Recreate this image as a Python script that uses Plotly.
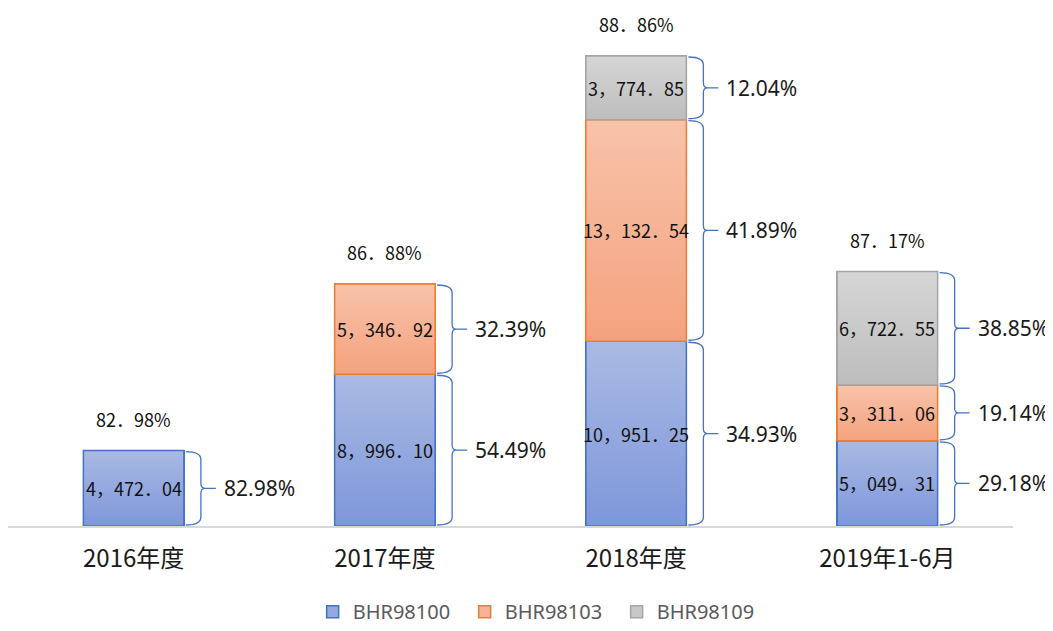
import plotly.graph_objects as go

# ---------------- data ----------------
categories = ["2016年度", "2017年度", "2018年度", "2019年1-6月"]
series_names = ["BHR98100", "BHR98103", "BHR98109"]
bhr98100 = [4472.04, 8996.10, 10951.25, 5049.31]
bhr98103 = [None, 5346.92, 13132.54, 3311.06]
bhr98109 = [None, None, 3774.85, 6722.55]
pct_98100 = ["82.98%", "54.49%", "34.93%", "29.18%"]
pct_98103 = [None, "32.39%", "41.89%", "19.14%"]
pct_98109 = [None, None, "12.04%", "38.85%"]
total_pct = ["82.98%", "86.88%", "88.86%", "87.17%"]

# ---------------- styles ----------------
values = [bhr98100, bhr98103, bhr98109]
pcts = [pct_98100, pct_98103, pct_98109]
mid_colors = ["#95A9DE", "#F6B295", "#C8C8C8"]
top_colors = ["#AABAE3", "#F8C3AA", "#D6D6D6"]
bot_colors = ["#7E97DB", "#F4A27E", "#BDBDBD"]
line_colors = ["#4472C4", "#ED7D31", "#A5A5A5"]
CJK = "Noto Sans CJK SC"
LAT = "Noto Sans"

# page body has an 8px margin, so the figure is 16px smaller than the window
W, H = 1045, 623
ML, MR, MT, MB = 0, 40, 22, 105
YMAX = 29400
BAR_W = 0.4
xs = list(range(len(categories)))
px_x = (W - ML - MR) / 4.0           # pixels per x unit
px_y = (H - MT - MB) / YMAX          # pixels per y unit

fig = go.Figure()

# bar traces (legend + base fill)
for j, name in enumerate(series_names):
    fig.add_trace(go.Bar(
        x=xs, y=[v if v is not None else 0 for v in values[j]], name=name,
        width=BAR_W, marker=dict(color=mid_colors[j],
                                 line=dict(color=line_colors[j], width=1.5)),
        hoverinfo="skip"))

shapes = []
annotations = []


def fmt(v):
    return f"{v:,.2f}".replace(",", "，").replace(".", "．")


for i in xs:
    base = 0.0
    for j in range(3):
        v = values[j][i]
        if v is None:
            continue
        y0, y1 = base, base + v
        base = y1
        xl, xr = i - BAR_W / 2, i + BAR_W / 2
        # gradient overlay for segment
        fig.add_trace(go.Scatter(
            x=[xl, xr, xr, xl, xl], y=[y0, y0, y1, y1, y0],
            mode="lines", fill="toself",
            fillgradient=dict(type="vertical",
                              colorscale=[[0, bot_colors[j]], [1, top_colors[j]]]),
            line=dict(color=line_colors[j], width=1.5),
            showlegend=False, hoverinfo="skip"))
        ym = (y0 + y1) / 2
        annotations.append(dict(x=i, y=ym, text=fmt(v), showarrow=False,
                                font=dict(family=CJK, size=18, color="#111111"),
                                xanchor="center", yanchor="middle"))
        # brace
        xh = xr + 2 / px_x
        xv = xr + 17 / px_x
        xtip = xv + 4 / px_x
        xt = xr + 32 / px_x
        r = 8 / px_y
        r2 = 5 / px_y
        g = 1 / px_y
        yt, yb = y1 - g, y0 + g
        path = (f"M {xh},{yt} Q {xv},{yt} {xv},{yt - r} "
                f"L {xv},{ym + r2} Q {xv},{ym} {xtip},{ym} L {xt},{ym} "
                f"M {xtip},{ym} Q {xv},{ym} {xv},{ym - r2} "
                f"L {xv},{yb + r} Q {xv},{yb} {xh},{yb}")
        shapes.append(dict(type="path", path=path, xref="x", yref="y",
                           line=dict(color="#4472C4", width=1.3)))
        annotations.append(dict(x=xr + 38 / px_x, y=ym, text=pcts[j][i],
                                showarrow=False, xanchor="left", yanchor="middle",
                                font=dict(family=LAT, size=21, color="#1a1a1a")))
    annotations.append(dict(x=i, y=base, text=total_pct[i].replace(".", "．"),
                            showarrow=False, xanchor="center", yanchor="bottom",
                            yshift=17,
                            font=dict(family=CJK, size=18, color="#111111")))

fig.update_layout(
    width=W, height=H,
    margin=dict(l=ML, r=MR, t=MT, b=MB, autoexpand=False),
    barmode="stack",
    plot_bgcolor="white", paper_bgcolor="white",
    shapes=shapes, annotations=annotations,
    showlegend=True,
    legend=dict(orientation="h", x=0.53, xanchor="center", y=-0.212,
                yanchor="bottom", entrywidth=107, entrywidthmode="pixels",
                font=dict(family=LAT, size=20, color="#595959"),
                traceorder="normal"),
    xaxis=dict(range=[-0.5, 3.5], tickvals=xs, ticktext=categories,
               showgrid=False, zeroline=False, showline=True,
               linecolor="#D9D9D9", linewidth=1.5, ticks="",
               tickfont=dict(family=CJK, size=24, color="#1a1a1a"),
               ticklabelstandoff=10, fixedrange=True),
    yaxis=dict(range=[0, YMAX], visible=False, fixedrange=True),
)

fig.write_html("out.html")
